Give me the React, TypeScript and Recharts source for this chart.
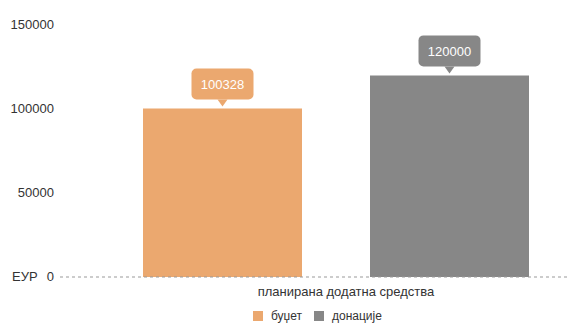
import { BarChart, Bar, XAxis, YAxis, Legend, LabelList } from 'recharts'

const categories = ['планирана додатна средства']
const budget = [100328]
const donations = [120000]
const yTicks = [0, 50000, 100000, 150000]

const SERIES = [
  { key: 'budget', name: 'буџет', color: '#EBA86F' },
  { key: 'donations', name: 'донације', color: '#878787' },
]

const data = categories.map((name, i) => ({ name, budget: budget[i], donations: donations[i] }))

const FONT = 'Liberation Sans, Arial, sans-serif'

function YTick({ x, y, payload }: any) {
  if (payload.value === 0) {
    return (
      <g>
        <text x={12} y={y} dy={4} fill="#333" fontSize={13} fontFamily={FONT}>ЕУР</text>
        <text x={x} y={y} dy={4} textAnchor="end" fill="#333" fontSize={13} fontFamily={FONT}>0</text>
      </g>
    )
  }
  return (
    <text x={x} y={y} dy={4} textAnchor="end" fill="#333" fontSize={13} fontFamily={FONT}>{payload.value}</text>
  )
}

function XTick({ x, y, payload }: any) {
  return (
    <text x={x + 10} y={y} dy={17} textAnchor="middle" fill="#333" fontSize={13} fontFamily={FONT}>{payload.value}</text>
  )
}

function callout(color: string) {
  return (props: any) => {
    const { x, y, width, value } = props
    const cx = x + width / 2
    const w = 62, h = 31, r = 5, tip = 7
    const bottom = y - 2 - tip
    const top = bottom - h
    const left = cx - w / 2
    return (
      <g>
        <rect x={left} y={top} width={w} height={h} rx={r} fill={color} />
        <path d={`M${cx - 5},${bottom} L${cx},${bottom + tip} L${cx + 5},${bottom} Z`} fill={color} />
        <text x={cx} y={top + h / 2} dy={5} textAnchor="middle" fill="#fff" fontSize={13} fontFamily={FONT}>{value}</text>
      </g>
    )
  }
}

function LegendContent() {
  return (
    <div style={{ display: 'flex', justifyContent: 'flex-start', alignItems: 'center', paddingLeft: 253, height: 18, fontFamily: FONT, fontSize: 12, color: '#333' }}>
      {SERIES.map(s => (
        <div key={s.key} style={{ display: 'flex', alignItems: 'center', marginRight: 12 }}>
          <span style={{ width: 10, height: 10, background: s.color, display: 'inline-block', marginRight: 8 }} />
          {s.name}
        </div>
      ))}
    </div>
  )
}

export default function App() {
  return (
    <div style={{ position: 'absolute', left: 0, top: 0, background: '#fff' }}>
      <BarChart width={568} height={325} data={data} margin={{ top: 25, right: 0, left: 0, bottom: 0 }} barSize={159} barGap={68}>
        <XAxis
          dataKey="name"
          height={30}
          padding={{ left: 44, right: 0 }}
          axisLine={{ stroke: '#999', strokeDasharray: '3 3' }}
          tickLine={false}
          tickSize={0}
          tick={<XTick />}
        />
        <YAxis width={60} domain={[0, 150000]} ticks={yTicks} axisLine={false} tickLine={false} tickSize={4} tick={<YTick />} />
        <Legend verticalAlign="bottom" content={<LegendContent />} />
        {SERIES.map(s => (
          <Bar key={s.key} dataKey={s.key} name={s.name} fill={s.color} isAnimationActive={false}>
            <LabelList dataKey={s.key} content={callout(s.color)} />
          </Bar>
        ))}
      </BarChart>
    </div>
  )
}
